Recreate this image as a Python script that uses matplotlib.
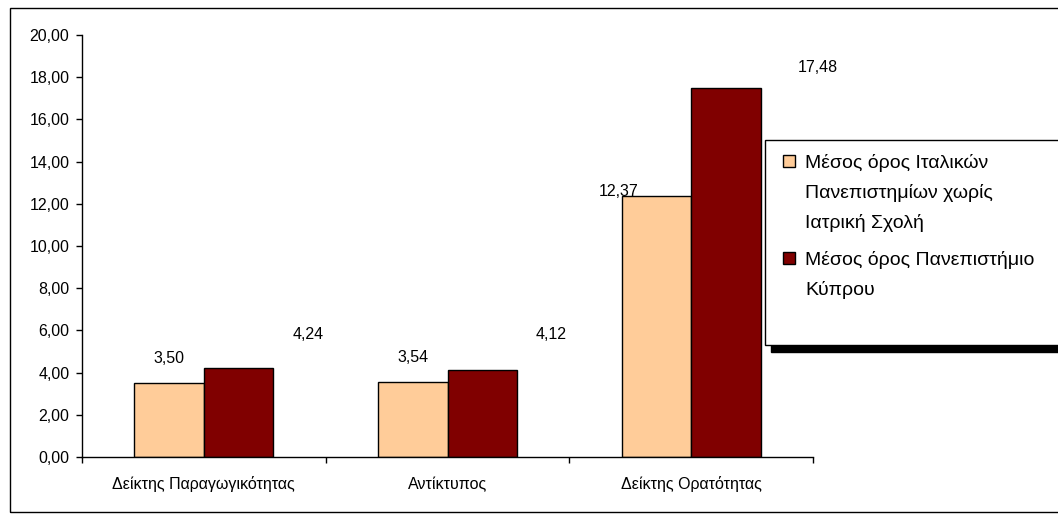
import matplotlib.pyplot as plt
import numpy as np
from matplotlib.patches import Rectangle
from matplotlib.ticker import FuncFormatter, FixedLocator

plt.rcParams['font.family'] = ['Liberation Sans', 'DejaVu Sans']

# data
categories = ["Δείκτης Παραγωγικότητας", "Αντίκτυπος", "Δείκτης Ορατότητας"]
italy = [3.50, 3.54, 12.37]
cyprus = [4.24, 4.12, 17.48]
series_names = ["Μέσος όρος Ιταλικών\nΠανεπιστημίων χωρίς\nΙατρική Σχολή",
                "Μέσος όρος Πανεπιστήμιο\nΚύπρου"]
colors = ["#FFCC99", "#800000"]

W, H = 1058, 514
fig = plt.figure(figsize=(W / 100, H / 100), dpi=100)
ax = fig.add_axes([82 / W, 57 / H, (813 - 82) / W, (457 - 35) / H])

x = np.arange(len(categories))
bw = 1 / 3.5
b1 = ax.bar(x - bw / 2, italy, bw, color=colors[0], edgecolor="black", linewidth=1)
b2 = ax.bar(x + bw / 2, cyprus, bw, color=colors[1], edgecolor="black", linewidth=1)

def fmt(v):
    return f"{v:.2f}".replace(".", ",")

fs = 11.5
# data labels (offsets in pixels, as in the original)
off1 = [(0, 25), (0, 25), (-38, 4)]
off2 = [(70, 33), (69, 36), (92, 21)]
for i in range(len(categories)):
    ax.annotate(fmt(italy[i]), (x[i] - bw / 2, italy[i]), xytext=(off1[i][0] * 0.72, off1[i][1] * 0.72),
                textcoords="offset points", ha="center", va="center", fontsize=fs)
    ax.annotate(fmt(cyprus[i]), (x[i] + bw / 2, cyprus[i]), xytext=(off2[i][0] * 0.72, off2[i][1] * 0.72),
                textcoords="offset points", ha="center", va="center", fontsize=fs)

ax.set_xlim(-0.5, len(categories) - 0.5)
ax.set_ylim(0, 20)
ax.set_yticks(np.arange(0, 21, 2))
ax.yaxis.set_major_formatter(FuncFormatter(lambda v, p: fmt(v)))
ax.set_xticks(x)
ax.set_xticklabels(categories)
ax.xaxis.set_minor_locator(FixedLocator(np.arange(-0.5, len(categories), 1.0)))
ax.tick_params(axis="x", which="major", length=0, pad=14, labelsize=fs)
ax.tick_params(axis="x", which="minor", length=4, width=1, direction="out")
ax.tick_params(axis="y", length=4, width=1, direction="out", pad=5, labelsize=fs)
for s in ["top", "right"]:
    ax.spines[s].set_visible(False)
for s in ["left", "bottom"]:
    ax.spines[s].set_linewidth(1)

# outer frame
fig.patches.append(Rectangle((10 / W, 1 - 512 / H), 1.1, (512 - 8) / H, transform=fig.transFigure,
                             fill=False, edgecolor="black", linewidth=1, clip_on=False))

# legend box with shadow
lx0, ly0, lx1, ly1 = 765, 140, 1062, 345
fig.patches.append(Rectangle(((lx0 + 6) / W, 1 - (ly1 + 7) / H), (lx1 - lx0) / W, (ly1 - ly0) / H,
                             transform=fig.transFigure, facecolor="black", edgecolor="black", zorder=5))
fig.patches.append(Rectangle((lx0 / W, 1 - ly1 / H), (lx1 - lx0) / W, (ly1 - ly0) / H,
                             transform=fig.transFigure, facecolor="white", edgecolor="black",
                             linewidth=1, zorder=6))
first_line = [168, 265]
for name, col, base in zip(series_names, colors, first_line):
    fig.patches.append(Rectangle((783 / W, 1 - (base - 1) / H), 12 / W, 12 / H, transform=fig.transFigure,
                                 facecolor=col, edgecolor="black", linewidth=1, zorder=7))
    for k, line in enumerate(name.split("\n")):
        fig.text(805 / W, 1 - (base + 30 * k) / H, line, fontsize=14, va="baseline", ha="left", zorder=8)

fig.savefig("out.png", dpi=100)
